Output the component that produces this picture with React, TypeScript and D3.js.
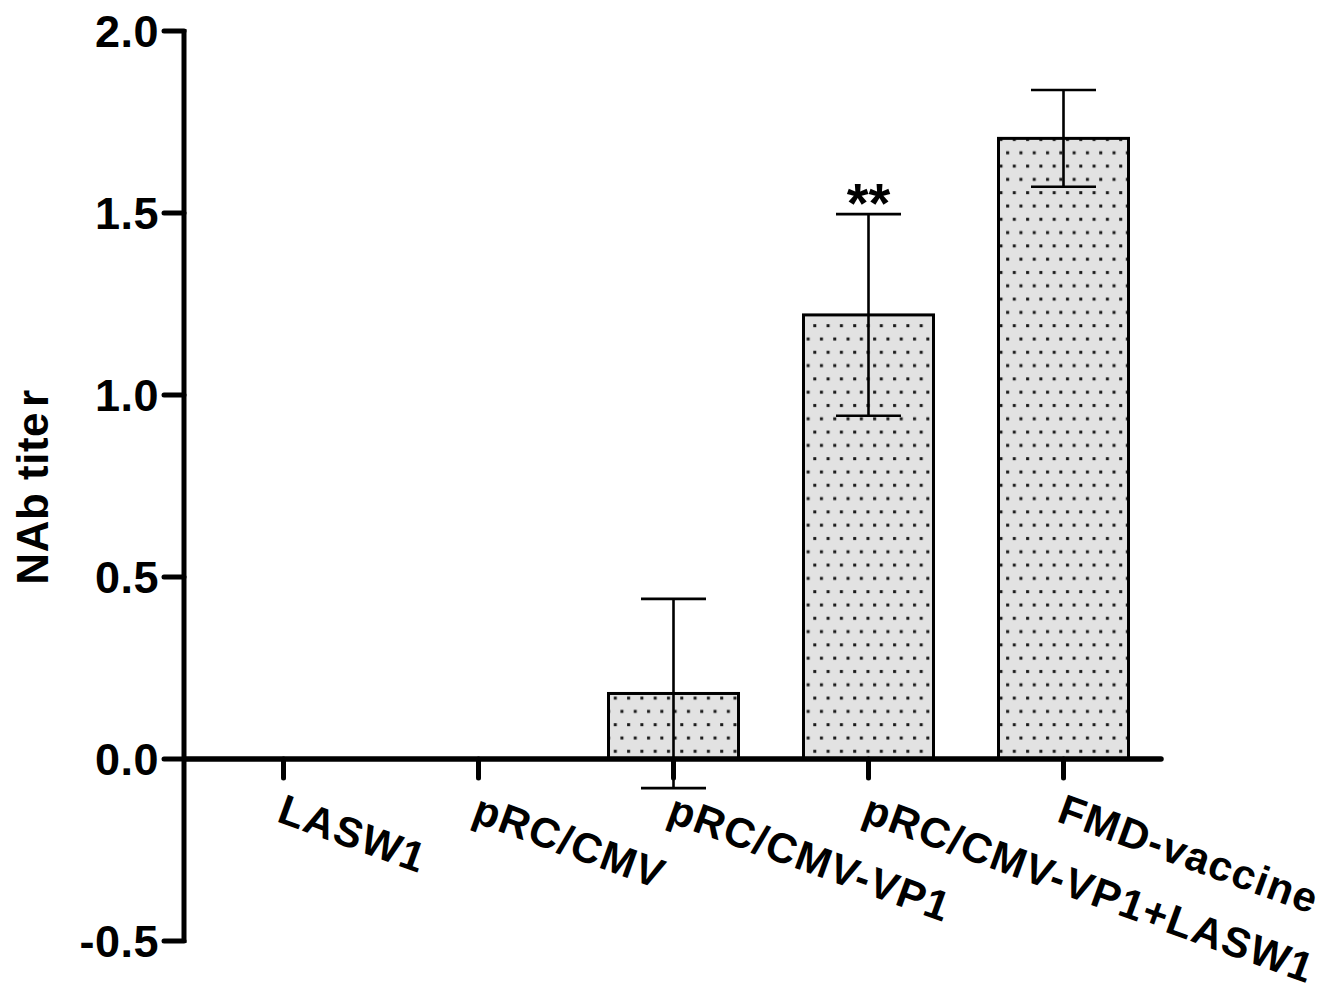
import React from "react";
import * as d3 from "d3";

const categories = ["LASW1", "pRC/CMV", "pRC/CMV-VP1", "pRC/CMV-VP1+LASW1", "FMD-vaccine"];
const means = [0, 0, 0.18, 1.22, 1.705];
const errors = [0, 0, 0.26, 0.277, 0.133];
const showBar = [false, false, true, true, true];
const significance = ["", "", "", "**", ""];
const yTicks = [-0.5, 0.0, 0.5, 1.0, 1.5, 2.0];
const yTickLabels = ["-0.5", "0.0", "0.5", "1.0", "1.5", "2.0"];

const W = 1344;
const H = 994;
const FONT = "'Liberation Sans', Arial, sans-serif";

export default function App() {
  const y = d3.scaleLinear().domain([-0.5, 2.0]).range([941, 31]);
  const x = d3.scaleBand<string>().domain(categories).range([186, 1161]).paddingInner(1 / 3).paddingOuter(1 / 6);
  const y0 = y(0);
  const bw = x.bandwidth();

  return (
    <svg width={W} height={H} style={{ display: "block", position: "absolute", left: 0, top: 0 }}>
      <defs>
        <pattern id="dots" patternUnits="userSpaceOnUse" width={13.3} height={26.6} x={0} y={0}>
          <rect width={13.3} height={26.6} fill="#e2e2e2" />
          <rect x={2} y={5} width={3} height={3} fill="#1a1a1a" />
          <rect x={8.65} y={18.3} width={3} height={3} fill="#1a1a1a" />
        </pattern>
      </defs>
      <rect x={0} y={0} width={W} height={H} fill="#ffffff" />

      {/* bars */}
      {categories.map((c, i) =>
        showBar[i] ? (
          <rect
            key={"bar" + c}
            x={x(c)!}
            y={y(means[i])}
            width={bw}
            height={y0 - y(means[i])}
            fill="url(#dots)"
            stroke="#000"
            strokeWidth={3}
          />
        ) : null
      )}

      {/* error bars */}
      {categories.map((c, i) => {
        if (!showBar[i]) return null;
        const cx = x(c)! + bw / 2;
        const capHalf = bw / 4;
        const yt = y(means[i] + errors[i]);
        const yb = y(means[i] - errors[i]);
        return (
          <g key={"err" + c} stroke="#000" strokeWidth={2.6}>
            <line x1={cx} x2={cx} y1={yt} y2={yb} />
            <line x1={cx - capHalf} x2={cx + capHalf} y1={yt} y2={yt} />
            <line x1={cx - capHalf} x2={cx + capHalf} y1={yb} y2={yb} />
          </g>
        );
      })}

      {/* significance */}
      {categories.map((c, i) =>
        significance[i] ? (
          <text
            key={"sig" + c}
            x={x(c)! + bw / 2}
            y={y(means[i] + errors[i]) + 8}
            textAnchor="middle"
            fontFamily={FONT}
            fontWeight="bold"
            fontSize={56}
          >
            {significance[i]}
          </text>
        ) : null
      )}

      {/* y axis */}
      <line x1={184} x2={184} y1={y(2.0) - 2} y2={y(-0.5) + 2} stroke="#000" strokeWidth={5} />
      {yTicks.map((t, i) => (
        <g key={"yt" + t}>
          <line x1={164} x2={184} y1={y(t)} y2={y(t)} stroke="#000" strokeWidth={5} strokeLinecap="round" />
          <text
            x={159}
            y={y(t)}
            dy="0.36em"
            textAnchor="end"
            fontFamily={FONT}
            fontWeight="bold"
            fontSize={45}
            letterSpacing={0.5}
          >
            {yTickLabels[i]}
          </text>
        </g>
      ))}

      {/* x axis */}
      <line x1={184} x2={1161} y1={y0} y2={y0} stroke="#000" strokeWidth={5.5} strokeLinecap="round" />
      {categories.map((c) => {
        const cx = x(c)! + bw / 2;
        return (
          <g key={"xt" + c}>
            <line x1={cx} x2={cx} y1={y0} y2={778} stroke="#000" strokeWidth={5} strokeLinecap="round" />
            <text
              transform={`translate(${cx - 8},${821}) rotate(20)`}
              textAnchor="start"
              fontFamily={FONT}
              fontWeight="bold"
              fontSize={42}
              letterSpacing={1.3}
            >
              {c}
            </text>
          </g>
        );
      })}

      {/* y axis title */}
      <text
        transform={`translate(48,487) rotate(-90)`}
        textAnchor="middle"
        fontFamily={FONT}
        fontWeight="bold"
        fontSize={44}
        letterSpacing={0.5}
      >
        NAb tite<tspan dx={5}>r</tspan>
      </text>
    </svg>
  );
}
